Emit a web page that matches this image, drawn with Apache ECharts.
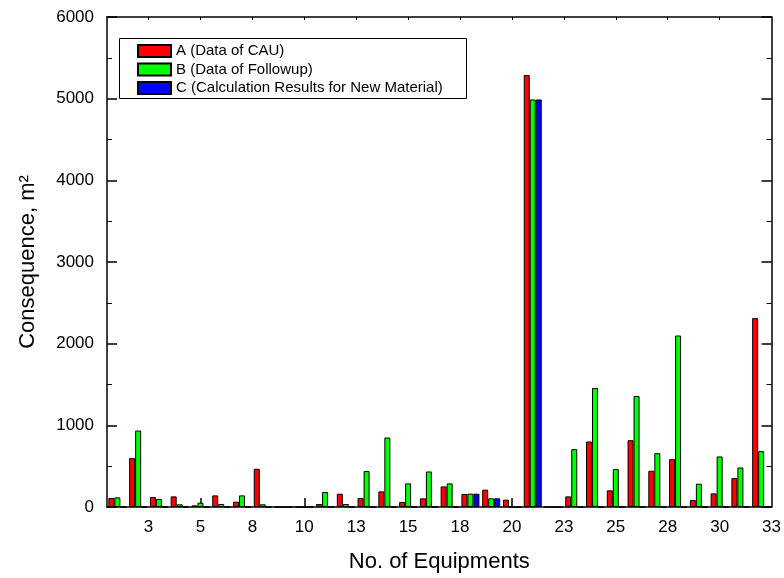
<!DOCTYPE html>
<html><head><meta charset="utf-8">
<script src="https://cdn.jsdelivr.net/npm/echarts@6/dist/echarts.min.js"></script>
<style>html,body{margin:0;padding:0;background:#fff}#c{width:784px;height:578px}</style>
</head><body><div id="c"></div>
<script>
const categories = ['1','2','3','4','5','6','7','8','9','10','11','12','13','14','15','16','17','18','19','20','21','22','23','24','25','26','27','28','29','30','31','32'];
const seriesNames = ['A (Data of CAU)', 'B (Data of Followup)', 'C (Calculation Results for New Material)'];
const valuesA = [110,598,122,130,20,142,65,468,0,0,37,163,110,191,61,106,252,159,212,90,5290,0,130,802,204,818,444,586,85,167,354,2313];
const valuesB = [118,936,98,33,53,37,142,33,0,0,183,37,440,851,289,435,289,163,106,0,4990,0,708,1457,464,1359,659,2100,285,619,484,684];
const valuesC = [0,0,0,0,0,0,0,0,0,0,0,0,0,0,0,0,0,163,106,0,4990,0,0,0,0,0,0,0,0,0,0,0];
const xTickPositions = [2.5,5,7.5,10,12.5,15,17.5,20,22.5,25,27.5,30,32.5];
const xTickLabels = ['3','5','8','10','13','15','18','20','23','25','28','30','33'];
const xMajorTicks = [5,10,15,20,25,30];
const yMin = 0, yMax = 6000, yStep = 1000;

const FONT = '"Liberation Sans", Arial, sans-serif';
const colors = ['#ff0000', '#00ff00', '#0000ff'];
const seriesData = [valuesA, valuesB, valuesC];

const chart = echarts.init(document.getElementById('c'));
const grid = { left: 107, right: 11, top: 17, bottom: 70 };
const lineStyle = { color: '#000', width: 1.5 };

chart.setOption({
  animation: false,
  backgroundColor: '#fff',
  grid: grid,
  graphic: [{
    type: 'rect', left: 119, top: 38, z: 5,
    shape: { width: 347, height: 60 },
    style: { fill: '#fff', stroke: '#000', lineWidth: 1 }
  }],
  legend: {
    data: seriesNames,
    orient: 'vertical', left: 137, top: 42, padding: 0, z: 10,
    itemWidth: 33, itemHeight: 12, itemGap: 0.5,
    icon: 'rect',
    textStyle: { fontFamily: FONT, fontSize: 15, color: '#000', lineHeight: 18 }
  },
  xAxis: [
    {
      type: 'category', data: categories, position: 'bottom', boundaryGap: true,
      axisLine: { show: true, lineStyle: lineStyle },
      axisTick: { show: false }, axisLabel: { show: false }, splitLine: { show: false },
      name: 'No. of Equipments', nameLocation: 'middle', nameGap: 44,
      nameTextStyle: { fontFamily: FONT, fontSize: 22, color: '#000' }
    },
    {
      type: 'value', min: 0.5, max: 32.5, position: 'bottom',
      axisLine: { show: false },
      axisTick: { show: true, inside: true, length: 9, customValues: xMajorTicks, lineStyle: { color: '#000', width: 1.5 } },
      axisLabel: {
        show: true, customValues: xTickPositions, margin: 12,
        fontFamily: FONT, fontSize: 17, color: '#000',
        formatter: function (v) { const i = xTickPositions.indexOf(v); return i >= 0 ? xTickLabels[i] : ''; }
      },
      splitLine: { show: false }
    },
    {
      type: 'value', min: 0.5, max: 32.5, position: 'top',
      axisLine: { show: true, lineStyle: lineStyle },
      axisTick: { show: true, inside: true, length: 3, customValues: xTickPositions.slice(0, -1), lineStyle: { color: '#000', width: 1 } },
      axisLabel: { show: false }, splitLine: { show: false }
    }
  ],
  yAxis: [
    {
      type: 'value', min: yMin, max: yMax, interval: yStep, position: 'left',
      axisLine: { show: true, lineStyle: lineStyle },
      axisTick: { show: true, inside: true, length: 10, lineStyle: { color: '#000', width: 1.5 } },
      minorTick: { show: true, splitNumber: 2, length: 5, lineStyle: { color: '#000', width: 1 } },
      axisLabel: { margin: 13, fontFamily: FONT, fontSize: 17, color: '#000', formatter: function (v) { return String(v); } },
      splitLine: { show: false },
      name: 'Consequence, m\u00B2', nameLocation: 'middle', nameGap: 68, nameRotate: 90,
      nameTextStyle: { fontFamily: FONT, fontSize: 22, color: '#000' }
    },
    {
      type: 'value', min: yMin, max: yMax, interval: yStep, position: 'right',
      axisLine: { show: true, lineStyle: lineStyle },
      axisTick: { show: true, inside: true, length: 10, lineStyle: { color: '#000', width: 1.5 } },
      minorTick: { show: true, splitNumber: 2, length: 5, lineStyle: { color: '#000', width: 1 } },
      axisLabel: { show: false }, splitLine: { show: false }
    }
  ],
  series: seriesNames.map(function (name, i) {
    return {
      name: name, type: 'bar', xAxisIndex: 0, yAxisIndex: 0,
      data: seriesData[i], barWidth: 6, barGap: '0%',
      itemStyle: { color: colors[i], borderColor: '#000', borderWidth: 1 }
    };
  })
});
</script></body></html>
